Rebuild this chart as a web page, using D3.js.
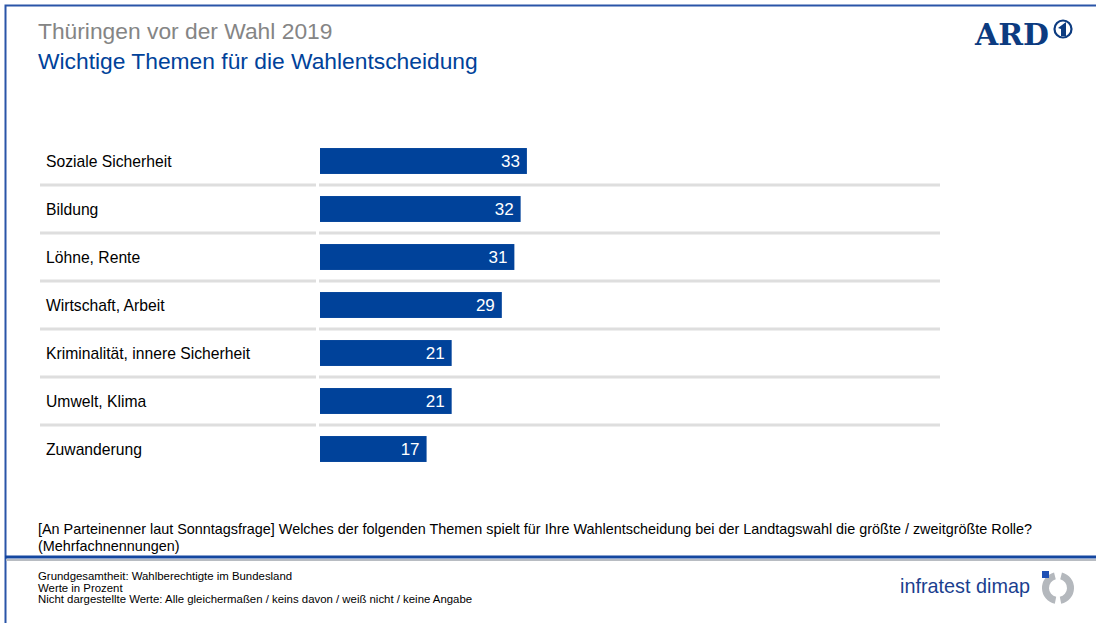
<!DOCTYPE html>
<meta charset="utf-8">
<style>
    body { margin: 0; background: #fff; }
    svg { display: block; font-family: Arial, "Liberation Sans", sans-serif; }
    .lbl { font-size: 15.7px; fill: #000; }
    .val { font-size: 17px; fill: #fff; text-anchor: end; }
</style>
<svg width="1096" height="623"></svg>
<script src="https://d3js.org/d3.v7.min.js"></script>
<script>

    var themen = ["Soziale Sicherheit", "Bildung", "Löhne, Rente", "Wirtschaft, Arbeit",
        "Kriminalität, innere Sicherheit", "Umwelt, Klima", "Zuwanderung"];
    var werte = [33, 32, 31, 29, 21, 21, 17];

    var blue = "#00429a";
    var svg = d3.select("svg");

    // frame
    svg.append("path").attr("d", "M5.5,623 V5.5 H1096").attr("fill", "none")
        .attr("stroke", "#2a55a8").attr("stroke-width", 2);
    svg.append("line").attr("x1", 5).attr("x2", 1096).attr("y1", 557).attr("y2", 557)
        .attr("stroke", "#1447a0").attr("stroke-width", 3);
    svg.append("line").attr("x1", 6).attr("x2", 1096).attr("y1", 560).attr("y2", 560)
        .attr("stroke", "#b8bcc2").attr("stroke-width", 2);

    svg.append("text").attr("x", 38).attr("y", 39).attr("fill", "#858585")
        .style("font-size", "22.8px").text("Thüringen vor der Wahl 2019");
    svg.append("text").attr("x", 38).attr("y", 69).attr("fill", blue)
        .style("font-size", "22.8px").text("Wichtige Themen für die Wahlentscheidung");

    // ARD logo
    svg.append("text").attr("x", 975).attr("y", 45).attr("fill", "#0c3b80")
        .style("font-family", "'DejaVu Serif', serif").style("font-weight", "bold")
        .style("font-size", "30px").attr("textLength", 74).attr("lengthAdjust", "spacingAndGlyphs")
        .text("ARD");
    svg.append("circle").attr("cx", 1063).attr("cy", 29).attr("r", 8.5)
        .attr("fill", "none").attr("stroke", "#0c3b80").attr("stroke-width", 2.2);
    svg.append("path").attr("d", "M1058,28 L1066,22 L1066,36 L1061,36 L1061,29 Z").attr("fill", "#0c3b80");

    // chart
    var x = d3.scaleLinear().domain([0, 1]).range([0, 6.27]);
    var y = d3.scaleBand().domain(themen).range([137, 473]).paddingInner(0.46).paddingOuter(0.23);
    var x0 = 320;

    var rows = svg.append("g");
    themen.forEach(function (t, i) {
        if (i === themen.length - 1) return;
        var gy = y(t) + y.bandwidth() + (y.step() - y.bandwidth()) / 2;
        rows.append("rect").attr("x", 40).attr("y", gy - 1.5).attr("width", 276).attr("height", 3).attr("fill", "#dedede");
        rows.append("rect").attr("x", 319).attr("y", gy - 1.5).attr("width", 621).attr("height", 3).attr("fill", "#dedede");
    });

    svg.append("g").selectAll("text").data(themen).join("text")
        .attr("class", "lbl").attr("x", 46)
        .attr("y", function (d) { return y(d) + y.bandwidth() / 2 + 6; })
        .text(function (d) { return d; });

    svg.append("g").selectAll("rect").data(werte).join("rect")
        .attr("x", x0).attr("y", function (d, i) { return y(themen[i]); })
        .attr("width", function (d) { return x(d); }).attr("height", y.bandwidth())
        .attr("fill", blue);

    svg.append("g").selectAll("text").data(werte).join("text")
        .attr("class", "val")
        .attr("x", function (d) { return x0 + x(d) - 7; })
        .attr("y", function (d, i) { return y(themen[i]) + y.bandwidth() / 2 + 6; })
        .text(function (d) { return d; });

    // question
    svg.append("text").attr("x", 38).attr("y", 534).style("font-size", "14.4px")
        .text("[An Parteinenner laut Sonntagsfrage] Welches der folgenden Themen spielt für Ihre Wahlentscheidung bei der Landtagswahl die größte / zweitgrößte Rolle?");
    svg.append("text").attr("x", 38).attr("y", 551).style("font-size", "14.4px")
        .text("(Mehrfachnennungen)");

    var notes = ["Grundgesamtheit: Wahlberechtigte im Bundesland", "Werte in Prozent",
        "Nicht dargestellte Werte: Alle gleichermaßen / keins davon / weiß nicht / keine Angabe"];
    svg.append("g").selectAll("text").data(notes).join("text")
        .attr("x", 38).attr("y", function (d, i) { return 580 + i * 11.5; })
        .style("font-size", "11.4px").text(function (d) { return d; });

    // infratest dimap logo
    svg.append("text").attr("x", 900).attr("y", 593).attr("fill", "#1b3f8f")
        .style("font-size", "21px").attr("textLength", 130).attr("lengthAdjust", "spacingAndGlyphs")
        .text("infratest dimap");
    var arc = d3.arc().innerRadius(9).outerRadius(16);
    var lg = svg.append("g").attr("transform", "translate(1058,588)");
    lg.append("path").attr("fill", "#b4b8bd")
        .attr("d", arc({ startAngle: 0.25, endAngle: Math.PI - 0.2 }));
    lg.append("path").attr("fill", "#b4b8bd")
        .attr("d", arc({ startAngle: Math.PI + 0.2, endAngle: 2 * Math.PI - 0.25 }));
    lg.append("rect").attr("x", -16).attr("y", -17).attr("width", 7).attr("height", 7).attr("fill", "#1e50b4");

</script>
